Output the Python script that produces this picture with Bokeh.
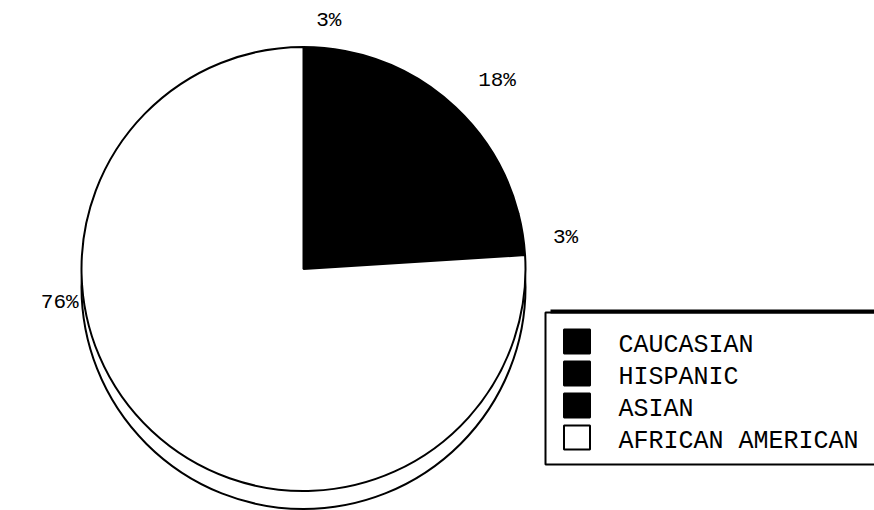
import numpy as np
from bokeh.plotting import figure
from bokeh.models import Range1d, ColumnDataSource
from bokeh.core.properties import value
from bokeh.embed import file_html
from bokeh.resources import INLINE

# ---- data ----
categories = ["CAUCASIAN", "HISPANIC", "ASIAN", "AFRICAN AMERICAN"]
shares = [3, 18, 3, 76]
pct_labels = ["3%", "18%", "3%", "76%"]
fills = ["black", "black", "black", "white"]

# ---- layout (pixels, y measured from top) ----
W, H = 874, 510
def Y(py):
    return H - np.asarray(py, dtype=float)

cx, cy = 303.0, float(Y(268.5))
R = 222.0
depth = 18.0
label_angles = [84.2, 44.2, 6.9, 187.8]
label_dists = [250, 270, 264, 246]

cum = np.cumsum([0] + shares)
start = 90 - cum[:-1] * 3.6
end = 90 - cum[1:] * 3.6

p = figure(width=W, height=H, x_range=Range1d(0, W), y_range=Range1d(0, H),
           x_axis_type=None, y_axis_type=None, toolbar_location=None,
           output_backend="svg", min_border=0, outline_line_color=None,
           background_fill_color="white", border_fill_color="white")
p.grid.visible = False

# extrusion (lower face)
p.circle(x=cx, y=cy - depth, radius=R, fill_color="white", line_color="black", line_width=2)

src = ColumnDataSource(dict(start=start, end=end, fill=fills, cat=categories))
p.wedge(x=cx, y=cy, radius=R, start_angle="start", end_angle="end",
        start_angle_units="deg", end_angle_units="deg", direction="clock",
        fill_color="fill", line_color="black", line_width=2, source=src)

# percentage labels
la = np.radians(label_angles)
lx = cx + np.array(label_dists) * np.cos(la)
ly = cy + np.array(label_dists) * np.sin(la)
p.text(x=lx, y=ly, text=pct_labels, text_font=value("Liberation Mono"),
       text_font_size="21px", text_align="center", text_baseline="middle",
       text_color="black")

# legend box
p.quad(left=545, right=900, top=Y(312), bottom=Y(464), fill_color="white",
       line_color="black", line_width=2)
p.segment(x0=550, x1=900, y0=Y(311), y1=Y(311), line_color="black", line_width=4)

rows = 341 + 32 * np.arange(len(categories))
p.rect(x=576.5, y=Y(rows), width=26, height=24, fill_color=fills,
       line_color="black", line_width=2)
p.text(x=618, y=Y(rows + 4), text=categories, text_font=value("Liberation Mono"),
       text_font_size="25px", text_align="left", text_baseline="middle",
       text_color="black")

open("out.html", "w").write(file_html(p, INLINE))
